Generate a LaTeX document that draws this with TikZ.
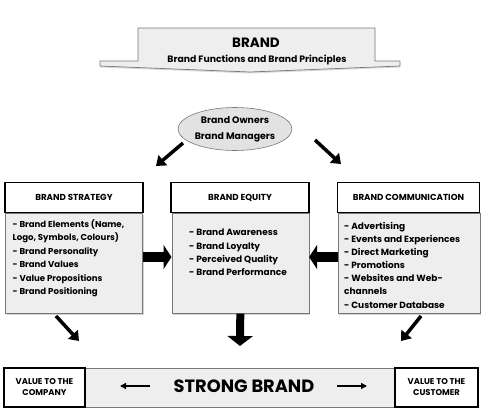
\documentclass[tikz,border=0pt]{standalone}
\usepackage{fontspec}
\setmainfont{Poppins}
\usetikzlibrary{arrows.meta,shapes.geometric,shadows,positioning}
\definecolor{boxgray}{RGB}{238,238,238}
\definecolor{ovalgray}{RGB}{226,226,226}
\definecolor{linegray}{RGB}{120,120,120}
\tikzset{
	headbox/.style={draw=black,line width=1.6pt,fill=white,minimum width=#1,minimum height=30pt,inner sep=0pt,font=\fontsize{8.7}{10}\selectfont},
	bodybox/.style={draw=linegray,line width=0.6pt,fill=boxgray,drop shadow={shadow xshift=1.5pt,shadow yshift=-1.5pt,opacity=.35},inner sep=0pt},
	itemtext/.style={anchor=north west,align=left,inner sep=0pt,font=\fontsize{9}{#1}\selectfont},
	fatarrow/.style={line width=3.5pt,-{Triangle[length=9pt,width=13pt]}},
	blockarrow/.style={line width=10pt,-{Triangle[length=8pt,width=24pt]}},
	thinarrow/.style={line width=1.4pt,-{Triangle[length=6pt,width=6pt]}},
	valuebox/.style={draw=black,line width=1.6pt,fill=white,inner sep=0pt,align=center,font=\fontsize{8.4}{11}\selectfont}
}
\begin{document}
\begin{tikzpicture}[x=1pt,y=-1pt]
	\useasboundingbox (0,0) rectangle (490,418);
	% banner
	\draw[draw=linegray,fill=boxgray,line width=0.7pt,drop shadow={shadow xshift=0pt,shadow yshift=-1.5pt,opacity=.3}] (100,61) -- (138,61) -- (138,28) -- (375,28) -- (375,61) -- (400,61) -- (400,66) -- (250,72) -- (100,66) -- cycle;
	\node[font=\fontsize{13.5}{15}\selectfont\bfseries] (brand) at (256,43) {BRAND};
	\node[font=\fontsize{9.3}{11}\selectfont\bfseries] (principles) at (257,60) {Brand Functions and Brand Principles};
	% owners
	\node[ellipse,draw=linegray,fill=ovalgray,line width=0.6pt,minimum width=114pt,minimum height=43pt,inner sep=0pt,align=center,font=\fontsize{9.4}{16}\selectfont] (owners) at (235,129) {\bfseries Brand Owners\\\bfseries Brand Managers};
	\coordinate (ol) at (183,143);
	\coordinate (or) at (315,140);
	% three boxes
	\node[headbox=138pt] (stratH) at (74,197.5) {\bfseries BRAND STRATEGY};
	\node[bodybox,minimum width=137pt,minimum height=100pt,anchor=north west] (stratB) at (5,213) {};
	\node[itemtext=13.4,font=\fontsize{8.6}{13.4}\selectfont] (stratT) at (12.5,219.5) {\bfseries - Brand Elements (Name,\\\bfseries Logo, Symbols, Colours)\\\bfseries - Brand Personality\\\bfseries - Brand Values\\\bfseries - Value Propositions\\\bfseries - Brand Positioning};
	\node[headbox=138pt] (equityH) at (240,197.5) {\bfseries BRAND EQUITY};
	\node[bodybox,minimum width=137pt,minimum height=100pt,anchor=north west] (equityB) at (171.5,213) {};
	\node[itemtext=13.3] (equityT) at (189,229) {\bfseries - Brand Awareness\\\bfseries - Brand Loyalty\\\bfseries - Perceived Quality\\\bfseries - Brand Performance};
	\node[headbox=142pt] (commH) at (408.5,197.5) {\bfseries BRAND COMMUNICATION};
	\node[bodybox,minimum width=142pt,minimum height=100pt,anchor=north west] (commB) at (337.5,213) {};
	\node[itemtext=13.1] (commT) at (344,222) {\bfseries - Advertising\\\bfseries - Events and Experiences\\\bfseries - Direct Marketing\\\bfseries - Promotions\\\bfseries - Websites and Web-\\\bfseries channels\\\bfseries - Customer Database};
	% strong brand bar
	\node[draw=linegray,fill=boxgray,line width=0.6pt,minimum width=310pt,minimum height=39pt,inner sep=0pt] (strong) at (240,387.5) {};
	\node[font=\fontsize{17.8}{20}\selectfont] (strongT) at (244,386) {\bfseries STRONG BRAND};
	\node[valuebox,minimum width=81pt,minimum height=39pt] (company) at (44.5,387.5) {\bfseries VALUE TO THE\\\bfseries COMPANY};
	\node[valuebox,minimum width=83pt,minimum height=39pt] (customer) at (436.5,387.5) {\bfseries VALUE TO THE\\\bfseries CUSTOMER};
	\coordinate (sl) at (150,386);
	\coordinate (sr) at (337,386);
	% arrows
	\draw[fatarrow] (ol) -- (156,166);
	\draw[fatarrow] (or) -- (341,164);
	\draw[blockarrow] (stratB.east |- 0,257) -- (equityB.west |- 0,257);
	\draw[blockarrow] (commB.west |- 0,257) -- (equityB.east |- 0,257);
	\draw[fatarrow] (56,316) -- (79,341);
	\draw[blockarrow,line width=8pt,-{Triangle[length=10pt,width=25pt]}] (equityB.south) -- (240,346);
	\draw[fatarrow] (421,316) -- (401,341);
	\draw[thinarrow] (sl) -- (120,386);
	\draw[thinarrow] (sr) -- (367,386);
\end{tikzpicture}
\end{document}
